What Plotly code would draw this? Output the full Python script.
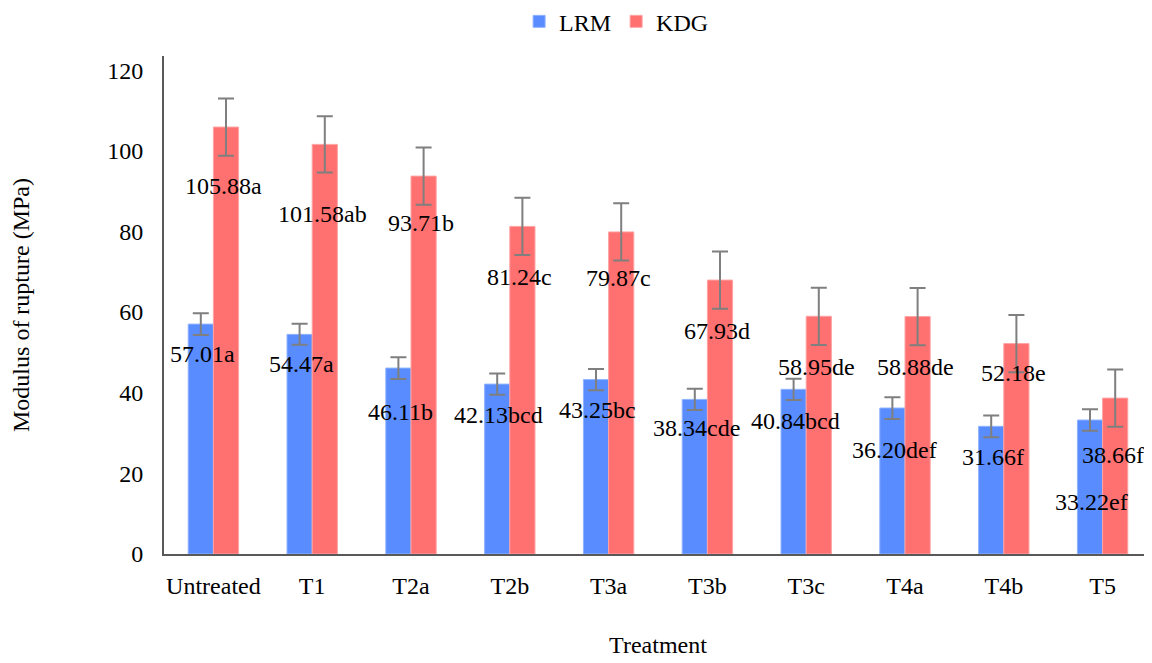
import plotly.graph_objects as go

categories = ["Untreated", "T1", "T2a", "T2b", "T3a", "T3b", "T3c", "T4a", "T4b", "T5"]
lrm_values = [57.01, 54.47, 46.11, 42.13, 43.25, 38.34, 40.84, 36.20, 31.66, 33.22]
kdg_values = [105.88, 101.58, 93.71, 81.24, 79.87, 67.93, 58.95, 58.88, 52.18, 38.66]
lrm_err = [2.7, 2.6, 2.7, 2.65, 2.65, 2.65, 2.65, 2.7, 2.7, 2.65]
kdg_err = [7.1, 7.0, 7.1, 7.1, 7.1, 7.1, 7.1, 7.1, 7.1, 7.1]
lrm_letters = ["a", "a", "b", "bcd", "bc", "cde", "bcd", "def", "f", "ef"]
kdg_letters = ["a", "ab", "b", "c", "c", "d", "de", "de", "e", "f"]

# pixel offsets of value labels below bar tops (layout only)
lrm_label_dy = [30, 30, 44, 31, 30, 29, 32, 42, 31, 82]
kdg_label_dy = [59, 70, 47, 51, 46, 51, 51, 50, 29, 57]

BLUE = "#588CFF"
RED = "#FF7070"
FONT = "Liberation Serif"
FS = 24

fig = go.Figure()
fig.add_trace(go.Bar(
    name="LRM", x=categories, y=lrm_values,
    marker=dict(color=BLUE, line=dict(color="#8FB3FF", width=1)),
    error_y=dict(type="data", array=lrm_err, color="#7F7F7F", thickness=2, width=8),
))
fig.add_trace(go.Bar(
    name="KDG", x=categories, y=kdg_values,
    marker=dict(color=RED, line=dict(color="#FFA3A3", width=1)),
    error_y=dict(type="data", array=kdg_err, color="#7F7F7F", thickness=2, width=8),
))

annotations = []
for i, c in enumerate(categories):
    annotations.append(dict(
        x=c, y=lrm_values[i], xref="x", yref="y", xshift=-11,
        yshift=-lrm_label_dy[i], text=f"{lrm_values[i]:.2f}{lrm_letters[i]}",
        showarrow=False, font=dict(family=FONT, size=FS, color="black"),
        xanchor="center", yanchor="middle",
    ))
    annotations.append(dict(
        x=c, y=kdg_values[i], xref="x", yref="y", xshift=10,
        yshift=-kdg_label_dy[i], text=f"{kdg_values[i]:.2f}{kdg_letters[i]}",
        showarrow=False, font=dict(family=FONT, size=FS, color="black"),
        xanchor="center", yanchor="middle",
    ))

# page body has an 8px margin, so the figure is sized to fit the window
fig.update_layout(
    width=1144, height=655,
    margin=dict(l=156, r=0, t=48, b=109, autoexpand=False),
    paper_bgcolor="white", plot_bgcolor="white",
    barmode="group", bargap=0.49, bargroupgap=0,
    font=dict(family=FONT, size=FS, color="black"),
    legend=dict(orientation="h", x=0.532, xanchor="center", xref="container",
                y=0.979, yanchor="middle", yref="container",
                font=dict(family=FONT, size=FS), traceorder="normal"),
    annotations=annotations,
    xaxis=dict(
        title=dict(text="Treatment", font=dict(family=FONT, size=FS), standoff=38),
        showline=True, linecolor="#595959", linewidth=2, ticks="", showgrid=False,
        tickfont=dict(family=FONT, size=FS), automargin=False, ticklabelstandoff=9,
    ),
    yaxis=dict(
        title=dict(text="Modulus of rupture (MPa)", font=dict(family=FONT, size=FS), standoff=77),
        range=[0, 123.5], tickvals=[0, 20, 40, 60, 80, 100, 120],
        showline=True, linecolor="#595959", linewidth=2, ticks="", showgrid=False,
        zeroline=False, tickfont=dict(family=FONT, size=FS), ticklabelstandoff=14,
        automargin=False,
    ),
)

fig.write_html("out.html")
